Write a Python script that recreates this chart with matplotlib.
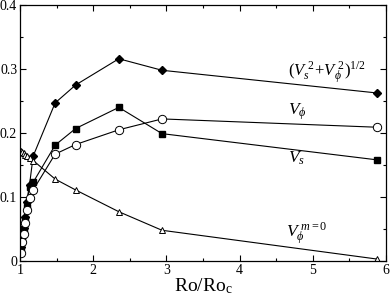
import matplotlib
matplotlib.use("Agg")
import matplotlib.pyplot as plt
from matplotlib.ticker import MultipleLocator

plt.rcParams['font.family'] = 'Liberation Serif'
plt.rcParams['mathtext.fontset'] = 'custom'
plt.rcParams['mathtext.rm'] = 'Liberation Serif'
plt.rcParams['mathtext.it'] = 'Liberation Serif:italic'

# data
ro = [1.01, 1.03, 1.05, 1.07, 1.09, 1.13, 1.18, 1.48, 1.76, 2.35, 2.94, 5.88]
v_mag = [0.022, 0.038, 0.052, 0.068, 0.092, 0.119, 0.164, 0.247, 0.275, 0.316, 0.298, 0.2625]
v_s = [0.018, 0.035, 0.050, 0.065, 0.085, 0.115, 0.123, 0.181, 0.207, 0.240, 0.199, 0.158]
v_phi = [0.013, 0.030, 0.042, 0.060, 0.080, 0.098, 0.111, 0.167, 0.182, 0.205, 0.222, 0.209]
v_phi0 = [0.172, 0.170, 0.168, 0.166, 0.164, 0.161, 0.157, 0.128, 0.111, 0.077, 0.048, 0.003]

xticks = [1, 2, 3, 4, 5, 6]
yticks = [0, 0.1, 0.2, 0.3, 0.4]
ytick_labels = ['0', '0.1', '0.2', '0.3', '0.4']

fig = plt.figure(figsize=(3.9, 2.98), dpi=100)
ax = fig.add_axes([20/390, 37/298, 366/390, 256/298])

lw = 0.8
ax.plot(ro, v_mag, '-', color='black', lw=lw, marker='D', ms=4.5, mfc='black', mec='black')
ax.plot(ro, v_s, '-', color='black', lw=lw, marker='s', ms=5, mfc='black', mec='black')
ax.plot(ro, v_phi, '-', color='black', lw=lw, marker='o', ms=6, mfc='white', mec='black', mew=0.7)
ax.plot(ro, v_phi0, '-', color='black', lw=lw, marker='^', ms=5, mfc='white', mec='black', mew=0.7)

ax.set_xlim(1, 6)
ax.set_ylim(0, 0.4)
ax.set_xticks(xticks)
ax.set_xticklabels([str(t) for t in xticks])
ax.set_yticks(yticks)
ax.set_yticklabels(ytick_labels)
ax.xaxis.set_minor_locator(MultipleLocator(0.5))
ax.yaxis.set_minor_locator(MultipleLocator(0.05))
ax.tick_params(which='both', direction='in', top=True, right=True, labelsize=10, width=0.8)
ax.tick_params(which='major', length=4.5, pad=2)
ax.tick_params(which='minor', length=2.3)
for s in ax.spines.values():
    s.set_linewidth(0.9)

ax.set_xlabel('Ro/Ro$_\\mathrm{c}$', fontsize=14, labelpad=0)

ax.text(4.66, 0.29, '$(V_s^{\\ 2}\\!+\\!V_\\phi^{\\ 2})^{1/2}$', fontsize=12)
ax.text(4.66, 0.228, '$V_\\phi$', fontsize=12.5)
ax.text(4.66, 0.153, '$V_s$', fontsize=12.5)
ax.text(4.64, 0.036, '$V_\\phi^{\\ m=0}$', fontsize=12.5)

fig.savefig('out.png', dpi=100)
